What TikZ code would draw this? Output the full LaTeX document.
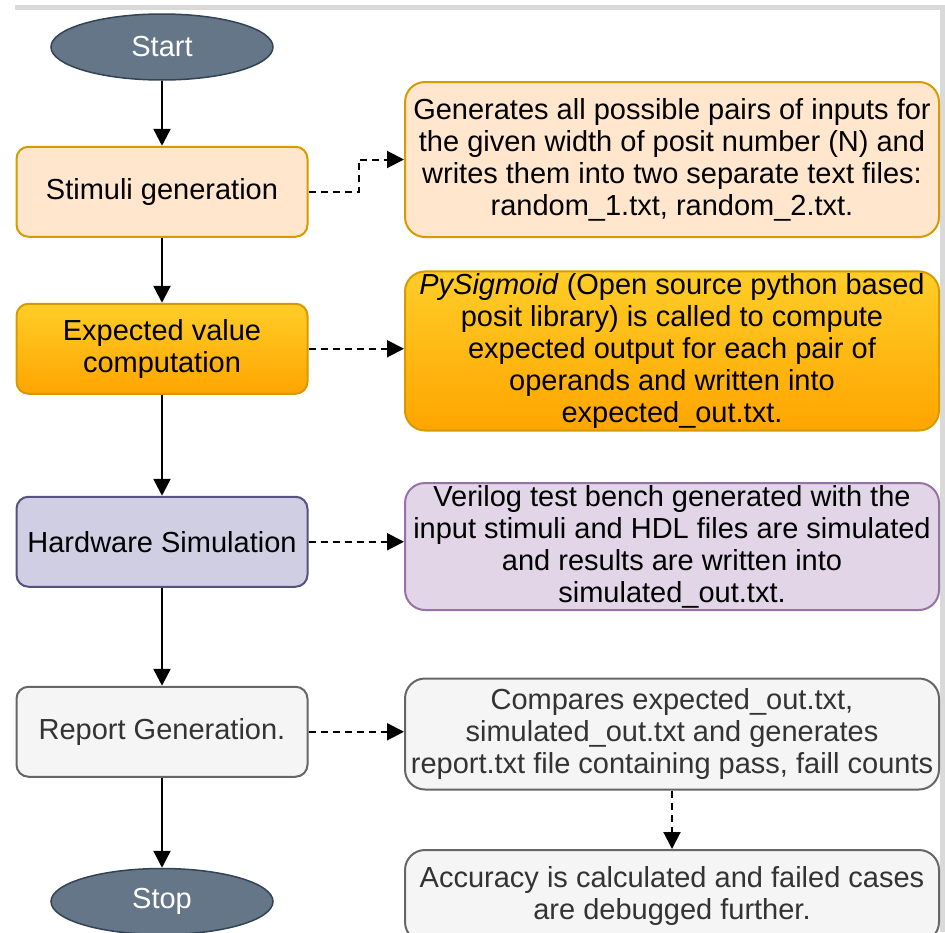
\documentclass[tikz,border=0pt]{standalone}
\usepackage{fontspec}
\setmainfont{Liberation Sans}
\usetikzlibrary{arrows.meta,positioning,shapes.geometric,calc}
\definecolor{slate}{HTML}{647687}
\definecolor{slateline}{HTML}{314354}
\definecolor{peach}{HTML}{FFE6CC}
\definecolor{peachline}{HTML}{D79B00}
\definecolor{goldtop}{HTML}{FFCD28}
\definecolor{goldbot}{HTML}{FFA500}
\definecolor{lavender}{HTML}{D0CEE2}
\definecolor{lavline}{HTML}{56517E}
\definecolor{lilac}{HTML}{E1D5E7}
\definecolor{lilacline}{HTML}{9673A6}
\definecolor{paper}{HTML}{F5F5F5}
\definecolor{paperline}{HTML}{666666}
\definecolor{paperink}{HTML}{333333}
\definecolor{edge}{HTML}{D9D9D9}

\begin{document}
\begin{tikzpicture}[x=1pt,y=-1pt,font=\fontsize{29}{32}\selectfont,node distance=65pt,
   term/.style={ellipse,draw=slateline,line width=1.5pt,fill=slate,text=white,
                minimum width=222pt,minimum height=66pt},
   proc/.style={draw,line width=2pt,rounded corners=12pt,minimum width=291pt,
                minimum height=90pt,align=center},
   note/.style={draw,line width=2pt,rounded corners=20pt,minimum width=534pt,
                align=center,inner sep=2pt},
   flow/.style={-{Triangle[length=17pt,width=17pt]},line width=2.5pt},
   link/.style={-{Triangle[length=17pt,width=17pt]},line width=2pt,
                dash pattern=on 7pt off 5pt}]
  \useasboundingbox (0,0) rectangle (945,932);
  % page edge
  \draw[edge,line width=5pt] (15,7) -- (942,7) -- (942,932);

  % main flow
  \node[term] (start) at (162,47) {Start};
  \node[proc,below=of start,fill=peach,draw=peachline] (stim) {Stimuli generation};
  \node[proc,below=of stim,draw=peachline,top color=goldtop,bottom color=goldbot] (expv)
       {Expected value\\computation};
  \node[proc,below=101pt of expv,fill=lavender,draw=lavline] (hwsim) {Hardware Simulation};
  \node[proc,below=98pt of hwsim,fill=paper,draw=paperline,text=paperink] (report)
       {Report Generation.};
  \node[term,below=90pt of report] (stop) {Stop};

  % notes
  \node[note,minimum height=155pt,fill=peach,draw=peachline] (desc1) at (672,159.5)
       {Generates all possible pairs of inputs for\\the given width of posit number (N) and\\
        writes them into two separate text files:\\random\_1.txt, random\_2.txt.};
  \node[note,minimum height=156pt,draw=peachline,top color=goldtop,bottom color=goldbot] (desc2)
       at (672,351) {\textit{PySigmoid} (Open source python based\\posit library) is called to compute\\
        expected output for each pair of\\operands and written into\\expected\_out.txt.};
  \node[note,minimum height=127pt,fill=lilac,draw=lilacline] (desc3) at (672,546.5)
       {Verilog test bench generated with the\\input stimuli and HDL files are simulated\\
        and results are written into\\simulated\_out.txt.};
  \node[note,minimum height=111pt,fill=paper,draw=paperline,text=paperink] (desc4) at (672,734)
       {Compares expected\_out.txt,\\simulated\_out.txt and generates\\
        report.txt file containing pass, faill counts};
  \node[note,minimum height=92pt,fill=paper,draw=paperline,text=paperink] (desc5) at (672,896)
       {Accuracy is calculated and failed cases\\are debugged further.};

  \draw[flow] (start) -- (stim);
  \draw[flow] (stim) -- (expv);
  \draw[flow] (expv) -- (hwsim);
  \draw[flow] (hwsim) -- (report);
  \draw[flow] (report) -- (stop);

  \draw[link] (stim.east) -- ++(50,0) |- (desc1.west);
  \draw[link] (expv.east) -- (expv.east -| desc2.west);
  \draw[link] (hwsim.east) -- (hwsim.east -| desc3.west);
  \draw[link] (report.east) -- (report.east -| desc4.west);
  \draw[link] (desc4) -- (desc5);
\end{tikzpicture}
\end{document}
